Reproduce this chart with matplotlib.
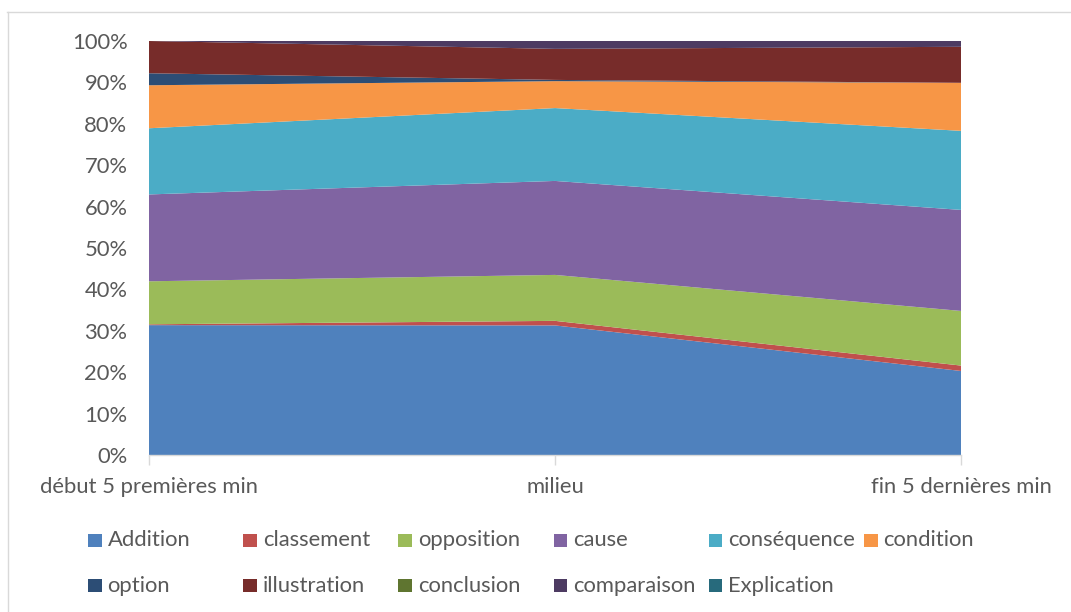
import numpy as np
import matplotlib
matplotlib.use("Agg")
import matplotlib.pyplot as plt
from matplotlib.lines import Line2D
from matplotlib.patches import Rectangle

plt.rcParams['font.family'] = ['Lato', 'DejaVu Sans']

# données (pourcentages)
positions = ["début 5 premières min", "milieu", "fin 5 dernières min"]
categories = ["Addition", "classement", "opposition", "cause", "conséquence", "condition",
              "option", "illustration", "conclusion", "comparaison", "Explication"]
addition = [31.4, 31.3, 20.3]
classement = [0.2, 1.1, 1.3]
opposition = [10.4, 11.1, 13.2]
cause = [21.0, 22.7, 24.4]
consequence = [16.0, 17.6, 19.1]
condition = [10.4, 6.5, 11.6]
option = [2.9, 0.3, 0.0]
illustration = [7.8, 7.5, 8.7]
conclusion = [0.0, 0.0, 0.0]
comparaison = [0.0, 1.9, 1.4]
explication = [0.0, 0.0, 0.0]
y_ticks = ["0%", "10%", "20%", "30%", "40%", "50%", "60%", "70%", "80%", "90%", "100%"]

colors = ["#4F81BD", "#C0504D", "#9BBB59", "#8064A2", "#4BACC6", "#F79646",
          "#2C4D75", "#772C2A", "#5F7530", "#4D3B62", "#276A7C"]

series = np.array([addition, classement, opposition, cause, consequence, condition,
                   option, illustration, conclusion, comparaison, explication], dtype=float)
series = series / series.sum(axis=0) * 100

W, H = 1071, 612
fig = plt.figure(figsize=(W / 100, H / 100), dpi=100)
ax = fig.add_axes([149 / W, 1 - 455 / H, (961 - 149) / W, (455 - 41) / H])

x = np.arange(len(positions))
ax.stackplot(x, series, colors=colors, linewidth=0)

ax.set_xlim(0, len(positions) - 1)
ax.set_ylim(0, 100)
ax.set_yticks(np.arange(0, 101, 10))
ax.set_yticklabels(y_ticks)
ax.set_xticks(x)
ax.set_xticklabels(positions)

txt = "#595959"
fs = 15.8
for s in ["top", "right", "left"]:
    ax.spines[s].set_visible(False)
ax.spines["bottom"].set_color("#D9D9D9")
ax.spines["bottom"].set_linewidth(1)
ax.spines["bottom"].set_zorder(5)
ax.tick_params(axis="y", length=0, pad=15.5, labelsize=fs, labelcolor=txt)
ax.tick_params(axis="x", length=7, width=1, color="#D9D9D9", pad=8.5,
               labelsize=fs, labelcolor=txt)

# légende manuelle, grille 6 colonnes
for i, name in enumerate(categories):
    row, col = divmod(i, 6)
    lx = 88 + col * 155.2
    ly = 540.5 + row * 45
    fig.patches.append(Rectangle((lx / W, 1 - (ly + 6.7) / H), 13.5 / W, 13.5 / H,
                                 transform=fig.transFigure, facecolor=colors[i],
                                 edgecolor="none"))
    fig.text((lx + 19.5) / W, 1 - ly / H, name, fontsize=fs, color=txt,
             ha="left", va="center")

# bordure de la zone du graphique
fig.lines.append(Line2D([7 / W, 1], [1 - 11.5 / H, 1 - 11.5 / H],
                        transform=fig.transFigure, color="#D9D9D9", linewidth=1))
fig.lines.append(Line2D([7.5 / W, 7.5 / W], [0, 1 - 11.5 / H],
                        transform=fig.transFigure, color="#D9D9D9", linewidth=1))

fig.savefig("out.png", dpi=100)
